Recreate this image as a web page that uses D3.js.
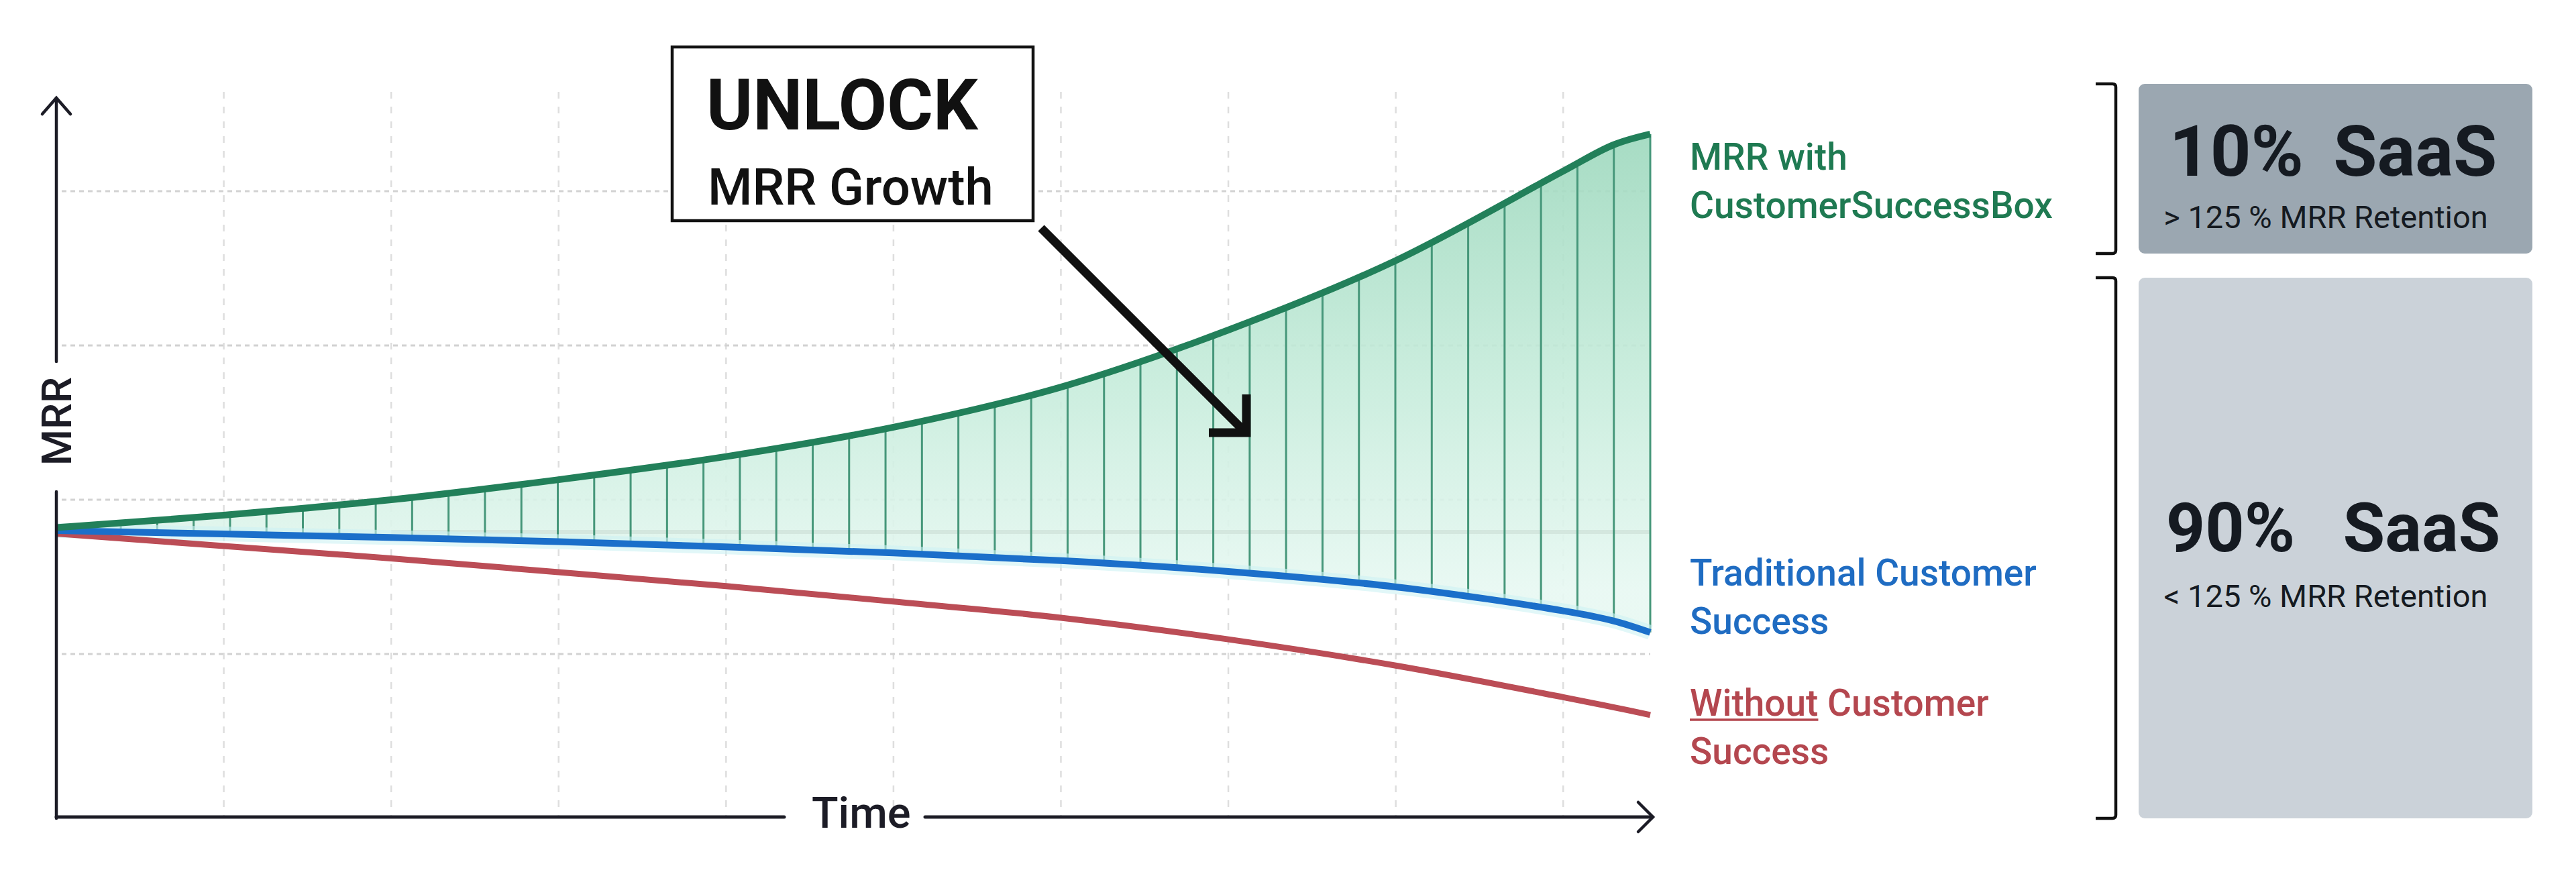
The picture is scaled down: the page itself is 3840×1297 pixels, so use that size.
<!DOCTYPE html>
<html>
<head>
<meta charset="utf-8">
<script src="https://cdn.jsdelivr.net/npm/d3@7"></script>
<style>
  body { margin: 0; background: #fff; }
  svg { display: block; }
  text { font-family: Roboto, "Noto Sans", sans-serif; }
</style>
</head>
<body>
<svg id="chart" width="3840" height="1297"></svg>
<script>
// time steps (one unit = one vertical grid column)
const times = [0, 1, 2, 3, 4, 5, 6, 7, 8, 9, 9.3, 9.52]
// MRR index
const withCSB     = [1.82, 1.90, 2.00, 2.13, 2.28, 2.47, 2.73, 3.10, 3.55, 4.13, 4.30, 4.37]
const traditional = [1.80, 1.778, 1.755, 1.728, 1.695, 1.655, 1.605, 1.535, 1.435, 1.28, 1.215, 1.14]
const without     = [1.78, 1.70, 1.62, 1.53, 1.44, 1.34, 1.235, 1.095, 0.925, 0.72, 0.655, 0.605]

const gridTimes = [1, 2, 3, 4, 5, 6, 7, 8, 9]
const gridValues = [1, 2, 3, 4]
const hatchStep = 0.2175

const seriesLabels = [
  {lines: ['MRR with', 'CustomerSuccessBox'], color: '#1f7a52', y: 253},
  {lines: ['Traditional Customer', 'Success'], color: '#1f6cc2', y: 873},
  {lines: ['Without Customer', 'Success'], color: '#b4474f', y: 1067, underline: 'Without'}
]
const segments = [
  {big: '10% SaaS', small: '> 125 % MRR Retention', top: 125, bottom: 378, fill: '#9ba7b1', bigY: 262, smallY: 340, size: 106, gap: 18},
  {big: '90% SaaS', small: '< 125 % MRR Retention', top: 414, bottom: 1220, fill: '#cbd2d9', bigY: 822, smallY: 905, size: 102, gap: 46}
]

const svg = d3.select('#chart')
const x = d3.scaleLinear().domain([0, 9.52]).range([84, 2460])
const y = d3.scaleLinear().domain([0, 5]).range([1205, 55])
const axisY = 1218
const ink = '#1c1c26'
const curve = d3.curveCatmullRom.alpha(0.5)

const defs = svg.append('defs')
const grad = defs.append('linearGradient')
  .attr('id', 'gainFill')
  .attr('gradientUnits', 'userSpaceOnUse')
  .attr('x1', 0).attr('y1', 200).attr('x2', 0).attr('y2', 880)
grad.append('stop').attr('offset', 0).attr('stop-color', '#9dd8bd')
grad.append('stop').attr('offset', 0.55).attr('stop-color', '#c6ecdb')
grad.append('stop').attr('offset', 1).attr('stop-color', '#e7f8f2')

// grid
svg.append('g').attr('class', 'vgrid')
  .selectAll('line')
  .data(gridTimes)
  .join('line')
  .attr('x1', d => x(d)).attr('x2', d => x(d))
  .attr('y1', 137).attr('y2', axisY)
  .attr('stroke', '#dedede').attr('stroke-width', 2.5)
  .attr('stroke-dasharray', '10 12')

svg.append('g').attr('class', 'hgrid')
  .selectAll('line')
  .data(gridValues)
  .join('line')
  .attr('x1', x(0) + 8).attr('x2', x(9.52))
  .attr('y1', d => y(d)).attr('y2', d => y(d))
  .attr('stroke', '#d2d2d2').attr('stroke-width', 3)
  .attr('stroke-dasharray', '7 6')

const rows = times.map((t, i) => ({t, g: withCSB[i], b: traditional[i], r: without[i]}))

const area = d3.area()
  .curve(curve)
  .x(d => x(d.t))
  .y0(d => y(d.b))
  .y1(d => y(d.g))

defs.append('clipPath').attr('id', 'gainClip')
  .append('path').attr('d', area(rows))

svg.append('path')
  .attr('d', area(rows))
  .attr('fill', 'url(#gainFill)')
  .attr('opacity', 0.9)

// faint baseline seen through the fill
svg.append('line')
  .attr('clip-path', 'url(#gainClip)')
  .attr('x1', x(2)).attr('x2', x(9.52))
  .attr('y1', y(traditional[0]) + 2).attr('y2', y(traditional[0]) + 2)
  .attr('stroke', '#b7c8bf').attr('stroke-width', 6).attr('opacity', 0.3)

const lineOf = key => d3.line().curve(curve).x(d => x(d.t)).y(d => y(d[key]))

const greenPath = svg.append('path').attr('d', lineOf('g')(rows)).attr('fill', 'none')
const bluePath = svg.append('path').attr('d', lineOf('b')(rows)).attr('fill', 'none')

function yAt(node, px) {
  let lo = 0, hi = node.getTotalLength()
  for (let i = 0; i < 32; i++) {
    const mid = (lo + hi) / 2
    if (node.getPointAtLength(mid).x < px) lo = mid
    else hi = mid
  }
  return node.getPointAtLength((lo + hi) / 2).y
}

const hatch = d3.range(44).map(k => 9.52 - k * hatchStep).filter(t => t > 0.3)
svg.append('g').attr('class', 'hatch')
  .selectAll('line')
  .data(hatch)
  .join('line')
  .attr('x1', d => x(d)).attr('x2', d => x(d))
  .attr('y1', d => yAt(greenPath.node(), x(d)))
  .attr('y2', d => yAt(bluePath.node(), x(d)))
  .attr('stroke', '#46977a').attr('stroke-width', 3)

// lines
svg.append('path')
  .attr('d', lineOf('b')(rows))
  .attr('fill', 'none').attr('stroke', '#cdf2f4').attr('stroke-width', 22).attr('opacity', 0.6)
svg.append('path')
  .attr('d', lineOf('r')(rows))
  .attr('fill', 'none').attr('stroke', '#bb4d56').attr('stroke-width', 9)
bluePath.attr('stroke', '#1b6fca').attr('stroke-width', 10)
bluePath.raise()
greenPath.attr('stroke', '#22805a').attr('stroke-width', 10)
greenPath.raise()

// axes
const axes = svg.append('g').attr('stroke', ink).attr('fill', 'none').attr('stroke-linecap', 'round')
axes.append('line').attr('x1', x(0)).attr('x2', x(0)).attr('y1', axisY + 2).attr('y2', 733).attr('stroke-width', 4.5)
axes.append('line').attr('x1', x(0)).attr('x2', x(0)).attr('y1', 539).attr('y2', 147).attr('stroke-width', 4.5)
axes.append('polyline').attr('points', [[x(0) - 21, 170], [x(0), 146], [x(0) + 21, 170]].join(' ')).attr('stroke-width', 4.5)
axes.append('line').attr('x1', x(0)).attr('x2', 1169).attr('y1', axisY).attr('y2', axisY).attr('stroke-width', 5)
axes.append('line').attr('x1', 1379).attr('x2', x(9.52) + 3).attr('y1', axisY).attr('y2', axisY).attr('stroke-width', 5)
axes.append('polyline').attr('points', [[x(9.52) - 18, axisY - 22], [x(9.52) + 4, axisY], [x(9.52) - 18, axisY + 22]].join(' ')).attr('stroke-width', 4.5)

svg.append('text')
  .attr('transform', `translate(${x(0) + 22},628) rotate(-90)`)
  .attr('text-anchor', 'middle')
  .attr('font-size', 62).attr('font-weight', 500).attr('fill', ink)
  .text('MRR')
svg.append('text')
  .attr('x', 1210).attr('y', 1234)
  .attr('font-size', 65).attr('font-weight', 500).attr('fill', ink)
  .text('Time')

// series labels
seriesLabels.forEach(s => {
  const t = svg.append('text')
    .attr('font-size', 55).attr('font-weight', 500).attr('fill', s.color)
  s.lines.forEach((ln, i) => {
    t.append('tspan').attr('x', 2519).attr('y', s.y + i * 72).text(ln)
  })
  if (s.underline) {
    const w = t.select('tspan').node().getSubStringLength(0, s.underline.length)
    svg.append('line')
      .attr('x1', 2519).attr('x2', 2519 + w)
      .attr('y1', s.y + 6).attr('y2', s.y + 6)
      .attr('stroke', s.color).attr('stroke-width', 3.5)
  }
})

// annotation
svg.append('rect')
  .attr('x', 1002).attr('y', 70).attr('width', 538).attr('height', 259)
  .attr('fill', '#fff').attr('stroke', '#111').attr('stroke-width', 4.5)
svg.append('text')
  .attr('x', 1053).attr('y', 193)
  .attr('font-size', 105).attr('font-weight', 700).attr('fill', '#111')
  .text('UNLOCK')
svg.append('text')
  .attr('x', 1055).attr('y', 305)
  .attr('font-size', 76).attr('font-weight', 500).attr('fill', '#111')
  .text('MRR Growth')
const arrow = svg.append('g').attr('stroke', '#111').attr('fill', 'none').attr('stroke-width', 13)
arrow.append('line').attr('x1', 1552).attr('y1', 340).attr('x2', 1852).attr('y2', 640)
arrow.append('polyline').attr('points', '1858,588 1858,645 1802,645')

// segment boxes
segments.forEach(s => {
  svg.append('path')
    .attr('d', `M3124,${s.top} H3149 Q3154,${s.top} 3154,${s.top + 5} V${s.bottom - 5} Q3154,${s.bottom} 3149,${s.bottom} H3124`)
    .attr('fill', 'none').attr('stroke', '#111').attr('stroke-width', 4.5)
  svg.append('rect')
    .attr('x', 3188).attr('y', s.top).attr('width', 587).attr('height', s.bottom - s.top)
    .attr('rx', 9).attr('fill', s.fill)
  svg.append('text')
    .attr('x', 3478).attr('y', s.bigY).attr('text-anchor', 'middle')
    .attr('font-size', s.size).attr('font-weight', 700).attr('fill', '#151a21')
    .attr('word-spacing', s.gap)
    .text(s.big)
  svg.append('text')
    .attr('x', 3467).attr('y', s.smallY).attr('text-anchor', 'middle')
    .attr('font-size', 47).attr('fill', '#151a21')
    .text(s.small)
})
</script>
</body>
</html>
